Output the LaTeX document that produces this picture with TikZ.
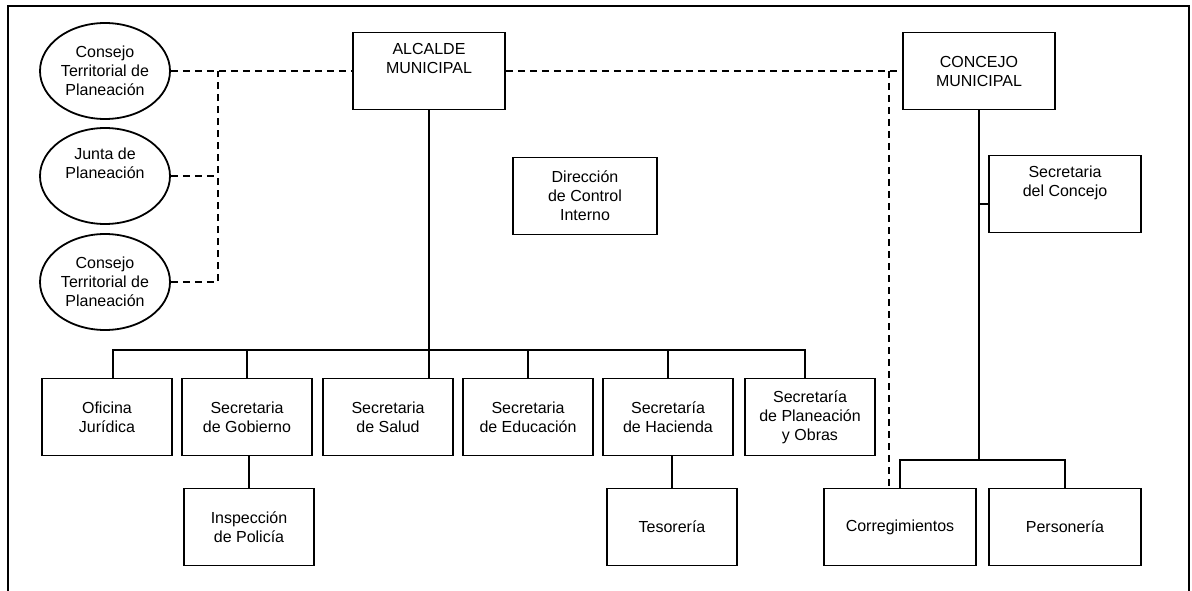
\documentclass[tikz,border=0pt]{standalone}
\usepackage{fontspec}
\setmainfont{Liberation Sans}
\usetikzlibrary{shapes.geometric}
\tikzset{
	every node/.style={font=\fontsize{16}{19}\selectfont, align=center},
	unidad/.style={draw, rectangle, line width=1.8pt, minimum width=130pt, minimum height=77pt, inner sep=0pt},
	ancha/.style={unidad, minimum width=152pt},
	consejo/.style={draw, ellipse, line width=1.8pt, minimum width=130pt, minimum height=96pt, inner xsep=-14pt, inner ysep=0pt},
	linea/.style={line width=1.8pt},
	enlace/.style={line width=1.8pt, dash pattern=on 7pt off 5pt},
}

\begin{document}
\begin{tikzpicture}[x=1pt,y=-1pt]
	\useasboundingbox (0,0) rectangle (1192,591);
	\draw[linea] (8,591) -- (8,6) -- (1189,6) -- (1189,591);

	% consejos consultivos
	\node[consejo] (cons1) at (105,71) {Consejo\\Territorial de\\Planeación};
	\node[consejo] (junta) at (105,176) {Junta de\\Planeación\\\strut};
	\node[consejo] (cons2) at (105,282) {Consejo\\Territorial de\\Planeación};

	% cabezas
	\node[ancha] (alcalde) at (429,71) {ALCALDE\\MUNICIPAL\\\strut};
	\node[ancha] (concejo) at (979,71) {CONCEJO\\MUNICIPAL};
	\node[unidad, minimum width=144pt] (control) at (585,196) {Dirección\\de Control\\Interno};
	\node[ancha] (secconcejo) at (1065,194) {Secretaria\\del Concejo\\\strut};

	% secretarias
	\node[unidad] (oficina) at (107,417) {Oficina\\Jurídica};
	\node[unidad] (gobierno) at (247,417) {Secretaria\\de Gobierno};
	\node[unidad] (salud) at (388,417) {Secretaria\\de Salud};
	\node[unidad] (educacion) at (528,417) {Secretaria\\de Educación};
	\node[unidad] (hacienda) at (668,417) {Secretaría\\de Hacienda};
	\node[unidad] (planeacion) at (810,417) {Secretaría\\de Planeación\\y Obras};

	\node[unidad] (inspeccion) at (249,527) {Inspección\\de Policía};
	\node[unidad] (tesoreria) at (672,527) {Tesorería};
	\node[ancha] (correg) at (900,527) {Corregimientos};
	\node[ancha] (personeria) at (1065,527) {Personería};

	\coordinate (eje) at (218,71);
	\coordinate (codo) at (889,71);
	\coordinate (busizq) at (113,350);
	\coordinate (busder) at (805,350);
	\coordinate (ramal) at (979,204);
	\coordinate (bajo) at (979,460);

	% lineas punteadas
	\draw[enlace] (cons1.east) -- (alcalde.west);
	\draw[enlace] (cons2.east) -| (eje);
	\draw[enlace] (junta.east) -- (junta.east -| eje);
	\draw[enlace] (alcalde.east) -- (concejo.west);
	\draw[enlace] (codo) -- (codo |- correg.north);

	% lineas de mando
	\draw[linea] (alcalde.south) -- (alcalde.south |- salud.north);
	\draw[linea] (busizq |- oficina.north) -- (busizq) -- (busder) -- (busder |- planeacion.north);
	\draw[linea] (gobierno.north |- busizq) -- (gobierno.north);
	\draw[linea] (educacion.north |- busizq) -- (educacion.north);
	\draw[linea] (hacienda.north |- busizq) -- (hacienda.north);
	\draw[linea] (gobierno.south -| inspeccion.north) -- (inspeccion.north);
	\draw[linea] (hacienda.south -| tesoreria.north) -- (tesoreria.north);

	\draw[linea] (concejo.south) -- (bajo);
	\draw[linea] (ramal) -- (ramal -| secconcejo.west);
	\draw[linea] (correg.north) -- (correg.north |- bajo) -- (personeria.north |- bajo) -- (personeria.north);
\end{tikzpicture}
\end{document}
